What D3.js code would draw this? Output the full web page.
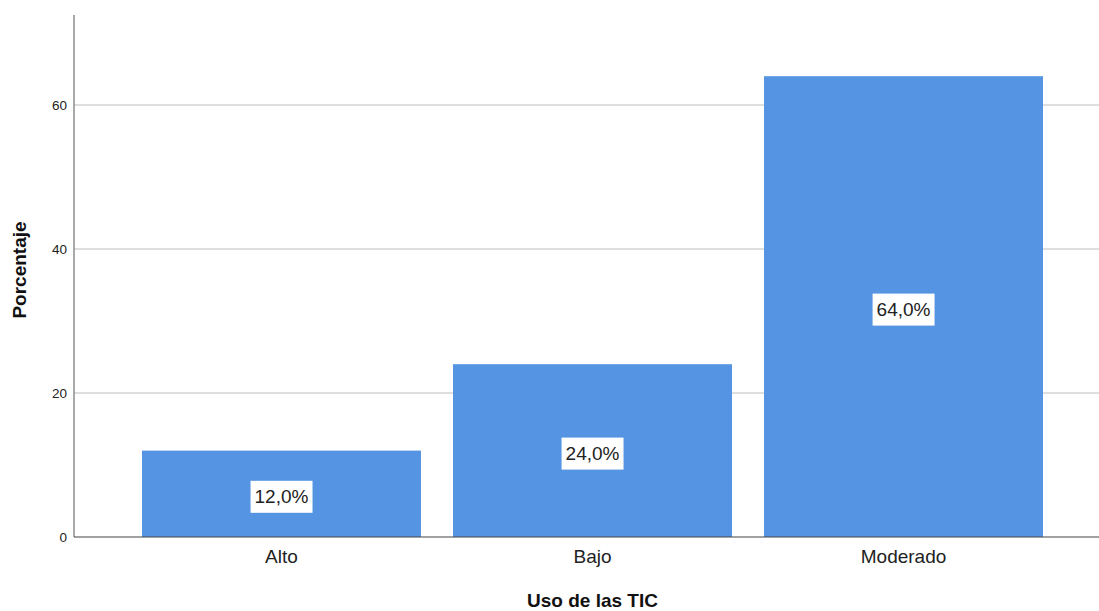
<!DOCTYPE html>
<html>
<head>
<meta charset="utf-8">
<script src="https://cdn.jsdelivr.net/npm/d3@7"></script>
<style>
  html, body { margin: 0; padding: 0; background: #fff; }
  svg { display: block; font-family: Arial, "Liberation Sans", sans-serif; }
</style>
</head>
<body>
<svg id="chart" width="1099" height="611"></svg>
<script>
// Uso de las TIC — porcentaje por nivel
const categories = ["Alto", "Bajo", "Moderado"];
const percentages = [12.0, 24.0, 64.0];
const yTicks = [0, 20, 40, 60];
const xTitle = "Uso de las TIC";
const yTitle = "Porcentaje";

const svg = d3.select("#chart");
const W = 1099, H = 611;
const plotLeft = 74, plotRight = 1111, plotTop = 15, plotBottom = 537;

const x = d3.scaleBand()
  .domain(categories)
  .range([plotLeft, plotRight])
  .paddingInner(0.103)
  .paddingOuter(0.2186);

const y = d3.scaleLinear().domain([0, 72.5]).range([plotBottom, plotTop]);

const fmt = v => d3.format(".1f")(v).replace(".", ",") + "%";

// horizontal grid lines
svg.append("g")
  .selectAll("line")
  .data(yTicks.filter(t => t > 0))
  .join("line")
  .attr("x1", plotLeft).attr("x2", W)
  .attr("y1", d => y(d)).attr("y2", d => y(d))
  .attr("stroke", "#bdbdbd").attr("stroke-width", 1.2);

// bars
svg.append("g")
  .selectAll("rect")
  .data(percentages)
  .join("rect")
  .attr("x", (d, i) => x(categories[i]))
  .attr("y", d => y(d))
  .attr("width", x.bandwidth())
  .attr("height", d => y(0) - y(d))
  .attr("fill", "#5594e2");

// y axis
const yAxis = svg.append("g")
  .attr("transform", `translate(${plotLeft},0)`)
  .call(d3.axisLeft(y).tickValues(yTicks).tickSize(0).tickPadding(7));
yAxis.select(".domain").attr("stroke", "#8c8c8c").attr("stroke-width", 1.5)
  .attr("d", `M0,${plotTop}V${plotBottom}`);
yAxis.selectAll("text").attr("font-size", 13.5).attr("fill", "#222")
  .attr("font-family", "Arial, 'Liberation Sans', sans-serif");

// x axis
const xAxis = svg.append("g")
  .attr("transform", `translate(0,${plotBottom})`)
  .call(d3.axisBottom(x).tickSize(0).tickPadding(13));
xAxis.select(".domain").attr("stroke", "#444").attr("stroke-width", 1.2)
  .attr("d", `M${plotLeft},0H${W}`);
xAxis.selectAll("text").attr("font-size", 19).attr("fill", "#222")
  .attr("font-family", "Arial, 'Liberation Sans', sans-serif");

// value labels in white boxes
const labels = svg.append("g")
  .selectAll("g")
  .data(percentages)
  .join("g")
  .attr("transform", (d, i) =>
    `translate(${x(categories[i]) + x.bandwidth() / 2},${(y(d) + y(0)) / 2 + 3})`);

labels.append("text")
  .attr("text-anchor", "middle")
  .attr("dominant-baseline", "central")
  .attr("font-size", 19)
  .attr("fill", "#222")
  .text(d => fmt(d))
  .each(function () {
    const b = this.getBBox();
    d3.select(this.parentNode).insert("rect", "text")
      .attr("x", b.x - 4).attr("y", -16)
      .attr("width", b.width + 8).attr("height", 32)
      .attr("fill", "#fff");
  });

// axis titles
svg.append("text")
  .attr("x", (plotLeft + plotRight) / 2).attr("y", 607)
  .attr("text-anchor", "middle")
  .attr("font-size", 19).attr("font-weight", "bold").attr("fill", "#111")
  .text(xTitle);

svg.append("text")
  .attr("transform", `translate(26,${(plotTop + plotBottom) / 2 - 6}) rotate(-90)`)
  .attr("text-anchor", "middle")
  .attr("font-size", 19).attr("font-weight", "bold").attr("fill", "#111")
  .text(yTitle);
</script>
</body>
</html>
